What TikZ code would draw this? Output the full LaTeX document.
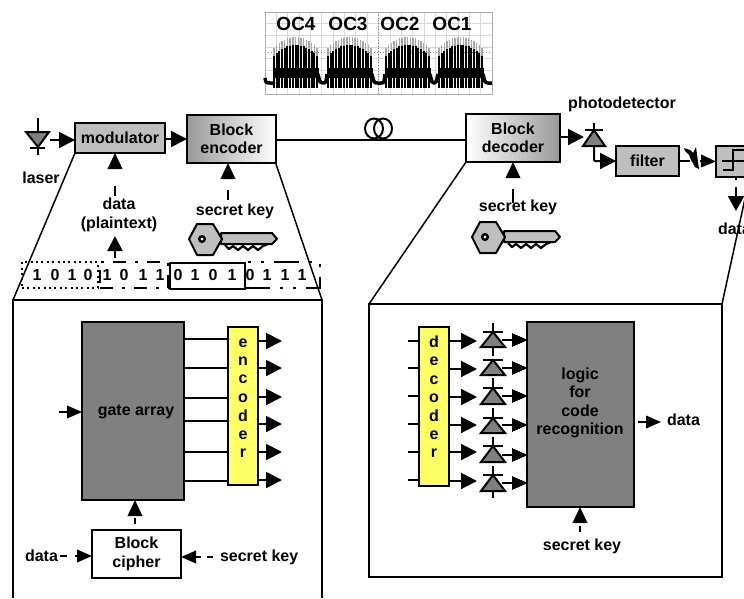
\documentclass[tikz,border=0pt]{standalone}
\usepackage{fontspec}
\setmainfont{Liberation Sans}
\usetikzlibrary{arrows.meta}
\definecolor{boxgray}{HTML}{BFBFBF}
\definecolor{darkgray}{HTML}{808080}
\definecolor{paleyellow}{HTML}{FFFF66}
\definecolor{gridc}{HTML}{D4DAD4}
\tikzset{
  txt/.style={inner sep=0pt,outer sep=0pt,font=\fontsize{16}{18.5}\selectfont\bfseries,align=center,text=black},
  box/.style={draw=black,line width=2pt,inner sep=0pt,outer sep=0pt,font=\fontsize{16}{18.5}\selectfont\bfseries,align=center,text=black},
  wire/.style={draw=black,line width=2pt},
  thin wire/.style={draw=black,line width=1.5pt},
  arr/.style={draw=black,line width=2pt,-{Triangle[length=16pt,width=16pt]}},
  arrs/.style={draw=black,line width=2pt,-{Triangle[length=15pt,width=12.5pt]}},
  dasharr/.style={draw=black,line width=2pt,dash pattern=on #1pt off 100pt,-{Triangle[length=16pt,width=14.5pt]}},
  diode/.style={draw=black,line width=2pt,fill=darkgray,line join=miter},
  keyshape/.style={draw=black,line width=2pt,fill=boxgray,line join=round},
}
\newcommand{\keyat}[2]{%
  \begin{scope}[shift={(#1,#2)}]
    \draw[keyshape] (32,10) -- (83,10) -- (88,16) -- (83,21) -- (32,21) -- cycle;
    \draw[black,line width=2.2pt,line join=round] (36,22) -- (40,26) -- (44,23) -- (49,27) -- (54,23) -- (59,27) -- (64,23) -- (69,27) -- (74,23) -- (79,21);
    \draw[keyshape] (0,16) -- (8,1) -- (24,1) -- (33,16) -- (24,32) -- (8,32) -- cycle;
    \draw[black,line width=2.4pt,fill=white] (13,16) circle (2.8);
  \end{scope}}
\newcommand{\diodeup}[4]{% x, bar y, base y, name
  \coordinate (#4) at (#1,#3);
  \draw[diode] (#1,#2) -- (#1-12,#3) -- (#1+12,#3) -- cycle;
  \draw[wire] (#1-10,#2) -- (#1+10,#2);}
\begin{document}
\begin{tikzpicture}[x=1pt,y=-1pt]
\clip (0,0) rectangle (744,598);
\fill[white] (0,0) rectangle (744,598);

% oscilloscope trace
\foreach \i in {0,...,20} \draw[gridc,line width=.7pt] (265+\i*11.35,12) -- (265+\i*11.35,94);
\foreach \i in {0,...,7} \draw[gridc,line width=.7pt] (265,12+\i*11.7) -- (492,12+\i*11.7);
\draw[gray,line width=.8pt,dotted] (378.5,12) -- (378.5,94);
\draw[gray,line width=.8pt,dotted] (265,52) -- (492,52);
\draw[gridc!80!black,line width=1pt] (265,12) rectangle (492,94);
\foreach \c in {295.5,349.5,407.5,460.5}{
  \foreach \u in {-21.6,-18.9,...,22}{
    \pgfmathsetmacro{\t}{45+11*(\u/22)*(\u/22)}
    \pgfmathsetmacro{\tt}{\t-8}
    \draw[black!35,line width=1.4pt] (\c+\u,\tt) -- (\c+\u,\t);
    \draw[black,line width=2pt] (\c+\u,\t) -- (\c+\u,88);
  }
  \fill[black] (\c-23,68) rectangle (\c+23,78);
}
\draw[black,line width=3.5pt,line join=round] (265,78) .. controls (266,83) .. (270,83) -- (273,83);
\draw[black,line width=3.5pt,line join=round] (318,74) .. controls (320,83) .. (323,83) .. controls (326,83) .. (327,74);
\draw[black,line width=3.5pt,line join=round] (372,74) .. controls (374,83) .. (378,83) -- (381,83) .. controls (384,83) .. (385,74);
\draw[black,line width=3.5pt,line join=round] (430,74) .. controls (432,83) .. (434,83) .. controls (436,83) .. (438,74);
\draw[black,line width=3.5pt,line join=round] (483,74) .. controls (485,83) .. (488,83) -- (492,83);
\foreach \x/\s [count=\i] in {296/OC4,348/OC3,400/OC2,452/OC1}
  \node[txt,font=\fontsize{19}{21}\selectfont\bfseries,text=black] (oc\i) at (\x,24) {\s};

% top row boxes
\node[box,fill=boxgray,minimum width=90pt,minimum height=30pt] (mod) at (120,138) {modulator};
\node[box,left color=black!40,right color=white,minimum width=89pt,minimum height=48pt] (enc) at (231.5,139) {Block\\encoder};
\node[box,left color=white,right color=black!40,minimum width=94pt,minimum height=48pt] (dec) at (513,138) {Block\\decoder};
\node[box,fill=boxgray,minimum width=63pt,minimum height=30pt] (filt) at (647.5,161) {filter};
\node[box,fill=boxgray,minimum width=60pt,minimum height=31pt] (thr) at (746,161.5) {};

% laser
\coordinate (lasr) at (38,118);
\coordinate (lasrb) at (38,155);
\draw[wire] (lasr) -- (lasrb);
\draw[diode] (26,132) -- (49,132) -- (38,147) -- cycle;
\draw[wire] (30,148) -- (45,148);
\coordinate (lasout) at (50,140);
\draw[arr] (lasout) -- (mod.west |- lasout);
\draw[arr] (mod.east |- 0,139) -- (enc.west |- 0,139);
\node[txt] (laserl) at (41,178) {laser};

% fibre
\draw[wire] (enc.east |- 0,140) -- (dec.west |- 0,140);
\coordinate (coilA) at (374,128.5);
\coordinate (coilB) at (383,128.5);
\draw[black,line width=2pt] (coilA) ellipse (9 and 10);
\draw[black,line width=2pt] (coilB) ellipse (9 and 10);

% encoder labels
\node[txt] (dpl) at (119,215) {data\\(plaintext)};
\coordinate (dataU) at (115,196);
\draw[dasharr=10] (dataU) -- (mod.south -| dataU);
\coordinate (dataL) at (115,258);
\draw[arr,-{Triangle[length=15pt,width=15pt]}] (dataL) -- (115,236);
\node[txt] (sk1) at (235,211) {secret key};
\coordinate (sk1a) at (228,200);
\draw[dasharr=10] (sk1a) -- (enc.south -| sk1a);
\keyat{189}{223}

% decoder side labels
\node[txt] (sk2) at (518,207) {secret key};
\coordinate (sk2a) at (513,203);
\draw[dasharr=14] (sk2a) -- (dec.south -| sk2a);
\keyat{472}{221}
\node[txt] (pd) at (622,104) {photodetector};
\coordinate (pdA) at (594,146);
\draw[wire] (594,123) -- (594,130);
\coordinate (pdin) at (584,137);
\draw[arr] (dec.east |- pdin) -- (pdin);
\draw[diode] (594,130) -- (583,146) -- (605,146) -- cycle;
\draw[wire] (585,130) -- (603,130);
\draw[arr,rounded corners=1pt] (pdA) -- (594,161) -- (filt.west |- 0,161);
\coordinate (noiseA) at (690,161);
\draw[wire] (filt.east |- noiseA) -- (noiseA);
\fill[black] (684,148) -- (690,150) -- (693,153) -- (696,147) -- (699,169) -- (695,167) -- (691,160) -- (689,155) -- (685,151) -- cycle;
\coordinate (thrin) at (700,161);
\draw[arrs] (thrin) -- (thr.west);
\draw[wire] (722,161) -- (744,161);
\draw[wire] (723,170) -- (733,170) -- (733,150) -- (744,150);
\coordinate (thrD) at (736,187);
\draw[wire] (736,177) -- (736,180);
\draw[draw=black,line width=2pt,-{Triangle[length=15pt,width=16pt]}] (thrD) -- (736,211);
\node[txt,anchor=west] (dat3) at (718,229) {data};

% bit groups
\node[draw=black,line width=2pt,dash pattern=on 2pt off 3.4pt,minimum width=76pt,minimum height=26pt,inner sep=0pt] (g1) at (60,275) {};
\node[draw=black,line width=2pt,dash pattern=on 13pt off 9pt on 3pt off 9pt,minimum width=68pt,minimum height=26pt,inner sep=0pt] (g2) at (134,275) {};
\node[draw=black,line width=2pt,fill=white,minimum width=75pt,minimum height=26pt,inner sep=0pt] (g3) at (207.5,275.5) {};
\node[draw=black,line width=2pt,dash pattern=on 25pt off 10pt on 3pt off 10pt on 3pt off 10pt,minimum width=75pt,minimum height=26pt,inner sep=0pt] (g4) at (282.5,275) {};
\foreach \x/\d [count=\i] in {37/1,55/0,72/1,88/0,107/1,124/0,143/1,160/1,178/0,195/1,213/0,232/1,250/0,267/1,285/1,302/1}
  \node[txt] (bit\i) at (\x,275) {\d};

% funnel lines to insets
\coordinate (iLb) at (13,598);
\coordinate (iLt) at (13,300);
\coordinate (iRt) at (322,300);
\coordinate (iRb) at (322,598);
\draw[wire,line join=miter] (iLb) -- (iLt) -- (iRt) -- (iRb);
\draw[thin wire] (mod.south west) -- (iLt);
\draw[thin wire] (enc.south east) ++(0,1) -- (iRt);
\node[draw=black,line width=2pt,minimum width=353pt,minimum height=273pt,inner sep=0pt,outer sep=0pt] (inR) at (545.5,440.5) {};
\draw[thin wire] (dec.south west) -- (inR.north west);
\coordinate (offR) at (746,194);
\draw[thin wire] (offR) -- (inR.north east);

% left inset
\node[box,fill=darkgray,minimum width=102pt,minimum height=178pt] (gate) at (133,411) {};
\node[txt] (gatel) at (136,412) {gate array};
\node[box,fill=paleyellow,minimum width=30pt,minimum height=158pt] (encd) at (243,406) {};
\foreach \y/\s [count=\i] in {343/e,361/n,379/c,398/o,416/d,435/e,453/r}
  \node[txt] (ee\i) at (243,\y) {\s};
\foreach \a/\b in {339/341,368/368,398/397,421/424,452/452,481/480}{
  \draw[wire] (gate.east |- 0,\a) -- (encd.west |- 0,\a);
  \draw[arr] (encd.east |- 0,\b) -- (282,\b);
}
\coordinate (gatein) at (59,412);
\draw[arrs] (gatein) -- (gate.west |- gatein);
\node[box,fill=white,minimum width=89pt,minimum height=48pt] (ciph) at (136.5,554) {Block\\cipher};
\coordinate (gatek) at (135,524);
\draw[dasharr=6] (gatek) -- (gate.south -| gatek);
\node[txt,anchor=west] (dat1) at (25,556) {data};
\coordinate (d1t) at (60,556);
\coordinate (d1a) at (75,556);
\draw[wire] (d1t) -- (67,556);
\draw[arrs] (d1a) -- (ciph.west |- d1a);
\node[txt,anchor=west] (sk3) at (220,557) {secret key};
\coordinate (s3t) at (213,557);
\coordinate (s3a) at (201,557);
\draw[wire] (s3t) -- (207,557);
\draw[arrs] (s3a) -- (ciph.east |- s3a);

% right inset
\node[box,fill=paleyellow,minimum width=30pt,minimum height=159pt] (decd) at (434,406.5) {};
\foreach \y/\s [count=\i] in {342/d,361/e,380/c,398/o,416/d,435/e,453/r}
  \node[txt] (dd\i) at (434,\y) {\s};
\node[box,fill=darkgray,minimum width=107pt,minimum height=185pt] (logic) at (580.5,414.5) {};
\node[txt] (logl) at (580,403) {logic\\[0pt]for\\[0pt]code\\[0pt]recognition};
\foreach \a/\b in {341/341,368/369,396/397,424/425,452/452,480/481}{
  \draw[wire] (408,\a) -- (decd.west |- 0,\a);
  \draw[arr] (decd.east |- 0,\b) -- (477,\b);
}
\draw[wire] (493,323) -- (493,356);
\draw[wire] (493,378) -- (493,390);
\draw[wire] (493,408) -- (493,420);
\draw[wire] (493,437) -- (493,450);
\draw[wire] (493,466) -- (493,498);
\foreach \b/\c/\n in {332/347/a,360/375/b,388/404/c,418/433/d,446/462/e,475/491/f}
  \diodeup{493}{\b}{\c}{dio\n}
\foreach \y in {340,368,396,425,455,483}{
  \draw[arrs] (502,\y) -- (logic.west |- 0,\y);
}
\coordinate (lgout) at (638,422);
\draw[arrs] (lgout) -- (661,422);
\node[txt,anchor=west] (dat2) at (667,420) {data};
\coordinate (lgk) at (580,532);
\draw[dasharr=6] (lgk) -- (logic.south -| lgk);
\node[txt] (sk4) at (582,546) {secret key};
\end{tikzpicture}
\end{document}
